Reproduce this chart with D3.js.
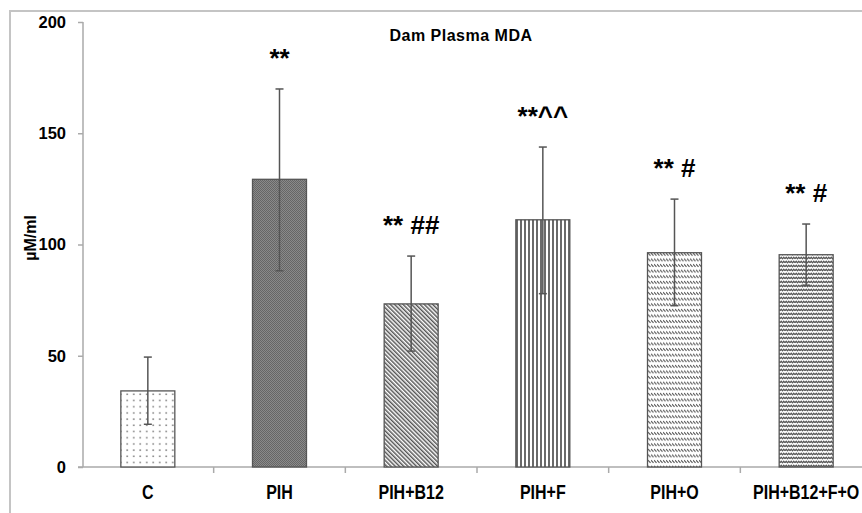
<!DOCTYPE html>
<html><head><meta charset="utf-8">
<script src="https://cdn.jsdelivr.net/npm/d3@7"></script>
<style>body{margin:0;background:#fff}svg{display:block}text{font-family:"Liberation Sans",Arial,sans-serif;font-weight:bold;fill:#000}</style>
</head><body><svg id="c" width="862" height="513"></svg>
<script>
const categories = ["C","PIH","PIH+B12","PIH+F","PIH+O","PIH+B12+F+O"];
const means = [34.2,129.3,73.3,111.1,96.3,95.4];
const errLow = [19.2,88.2,52.1,77.9,72.5,81.7];
const errHigh = [49.4,169.9,94.8,143.8,120.4,109.2];
const annotations = ["","**","** ##","**^^","** #","** #"];
const yTicks = [0,50,100,150,200];
const title = "Dam Plasma MDA";
const yLabel = "µM/ml";

const svg = d3.select("#c");
const defs = svg.append("defs");
// patterns
let p = defs.append("pattern").attr("id","p0").attr("patternUnits","userSpaceOnUse").attr("width",6.5).attr("height",6.2);
p.append("rect").attr("width",6.5).attr("height",6.2).attr("fill","#fff");
p.append("rect").attr("x",3).attr("y",3).attr("width",1.5).attr("height",1.5).attr("fill","#777");
p = defs.append("pattern").attr("id","p1").attr("patternUnits","userSpaceOnUse").attr("width",2).attr("height",2);
p.append("rect").attr("width",2).attr("height",2).attr("fill","#8a8a8a");
p.append("rect").attr("width",1).attr("height",1).attr("fill","#666");
p.append("rect").attr("x",1).attr("y",1).attr("width",1).attr("height",1).attr("fill","#666");
p = defs.append("pattern").attr("id","p2").attr("patternUnits","userSpaceOnUse").attr("width",3).attr("height",3).attr("patternTransform","rotate(-45)");
p.append("rect").attr("width",3).attr("height",3).attr("fill","#fff");
p.append("line").attr("x1",0.75).attr("y1",0).attr("x2",0.75).attr("y2",3).attr("stroke","#555").attr("stroke-width",1.5);
p = defs.append("pattern").attr("id","p3").attr("patternUnits","userSpaceOnUse").attr("width",4).attr("height",4);
p.append("rect").attr("width",4).attr("height",4).attr("fill","#fff");
p.append("line").attr("x1",1).attr("y1",0).attr("x2",1).attr("y2",4).attr("stroke","#444").attr("stroke-width",1.6);
p = defs.append("pattern").attr("id","p4").attr("patternUnits","userSpaceOnUse").attr("width",3).attr("height",5.6);
p.append("rect").attr("width",3).attr("height",5.6).attr("fill","#fff");
p.append("path").attr("d","M0,1 L2.5,3.6").attr("stroke","#555").attr("stroke-width",1.2);
p = defs.append("pattern").attr("id","p5").attr("patternUnits","userSpaceOnUse").attr("width",5).attr("height",4);
p.append("rect").attr("width",5).attr("height",4).attr("fill","#fff");
p.append("path").attr("d","M0,2.8 L1.25,1.2 L2.5,2.8 L3.75,1.2 L5,2.8").attr("fill","none").attr("stroke","#555").attr("stroke-width",1.2);

// border
svg.append("rect").attr("x",10).attr("y",11).attr("width",900).attr("height",600).attr("fill","none").attr("stroke","#c4c4c4").attr("stroke-width",2);

const x = d3.scaleBand().domain(categories).range([82,872]).paddingInner(0.59).paddingOuter(0.295);
const y = d3.scaleLinear().domain([0,200]).range([467,22]);

// y axis
const ya = svg.append("g").attr("transform","translate(83,0)").call(d3.axisLeft(y).tickValues(yTicks).tickSize(5).tickPadding(12));
ya.select(".domain").attr("stroke","#aaa").attr("stroke-width",1.5).attr("d","M0,22V467");
ya.selectAll(".tick line").attr("stroke","#aaa").attr("stroke-width",1.5);
ya.selectAll(".tick text").style("font-size","16.5px").style("font-weight","bold").attr("fill","#000");

// x axis
const xa = svg.append("g").attr("transform","translate(0,467)").call(d3.axisBottom(x).tickSize(0).tickPadding(18));
xa.select(".domain").remove();
xa.selectAll(".tick text").style("font-size","20px").style("font-weight","bold").attr("fill","#000").attr("transform","scale(0.8,1)");
svg.append("line").attr("x1",78).attr("x2",862).attr("y1",467).attr("y2",467).attr("stroke","#aaa").attr("stroke-width",1.5);
const step = x.step();
svg.selectAll(".xt").data(categories.slice(1)).join("line").attr("class","xt")
  .attr("x1",d=>x(d)-(step - x.bandwidth())/2).attr("x2",d=>x(d)-(step - x.bandwidth())/2)
  .attr("y1",467).attr("y2",473).attr("stroke","#aaa").attr("stroke-width",1.5);

// bars
svg.selectAll(".bar").data(categories).join("rect").attr("class","bar")
  .attr("x",d=>x(d)).attr("width",x.bandwidth())
  .attr("y",(d,i)=>y(means[i])).attr("height",(d,i)=>y(0)-y(means[i]))
  .attr("fill",(d,i)=>"url(#p"+i+")").attr("stroke","#555").attr("stroke-width",1.3);

// error bars
const eg = svg.selectAll(".err").data(categories).join("g").attr("class","err").attr("stroke","#555").attr("stroke-width",1.5);
eg.append("line").attr("x1",d=>x(d)+x.bandwidth()/2).attr("x2",d=>x(d)+x.bandwidth()/2)
  .attr("y1",(d,i)=>y(errLow[i])).attr("y2",(d,i)=>y(errHigh[i]));
eg.append("line").attr("x1",d=>x(d)+x.bandwidth()/2-4).attr("x2",d=>x(d)+x.bandwidth()/2+4)
  .attr("y1",(d,i)=>y(errLow[i])).attr("y2",(d,i)=>y(errLow[i]));
eg.append("line").attr("x1",d=>x(d)+x.bandwidth()/2-4).attr("x2",d=>x(d)+x.bandwidth()/2+4)
  .attr("y1",(d,i)=>y(errHigh[i])).attr("y2",(d,i)=>y(errHigh[i]));

// annotations
svg.selectAll(".ann").data(categories).join("text").attr("class","ann")
  .attr("x",d=>x(d)+x.bandwidth()/2).attr("y",(d,i)=>y(errHigh[i])-22)
  .attr("text-anchor","middle").style("font-size","26px").text((d,i)=>annotations[i]);

// title
svg.append("text").attr("x",461).attr("y",41).attr("text-anchor","middle").style("font-size","16px").style("letter-spacing","0.5px").text(title);
// y label
svg.append("text").attr("transform","translate(36,238) rotate(-90)").attr("text-anchor","middle").style("font-size","16px").text(yLabel);
</script></body></html>
